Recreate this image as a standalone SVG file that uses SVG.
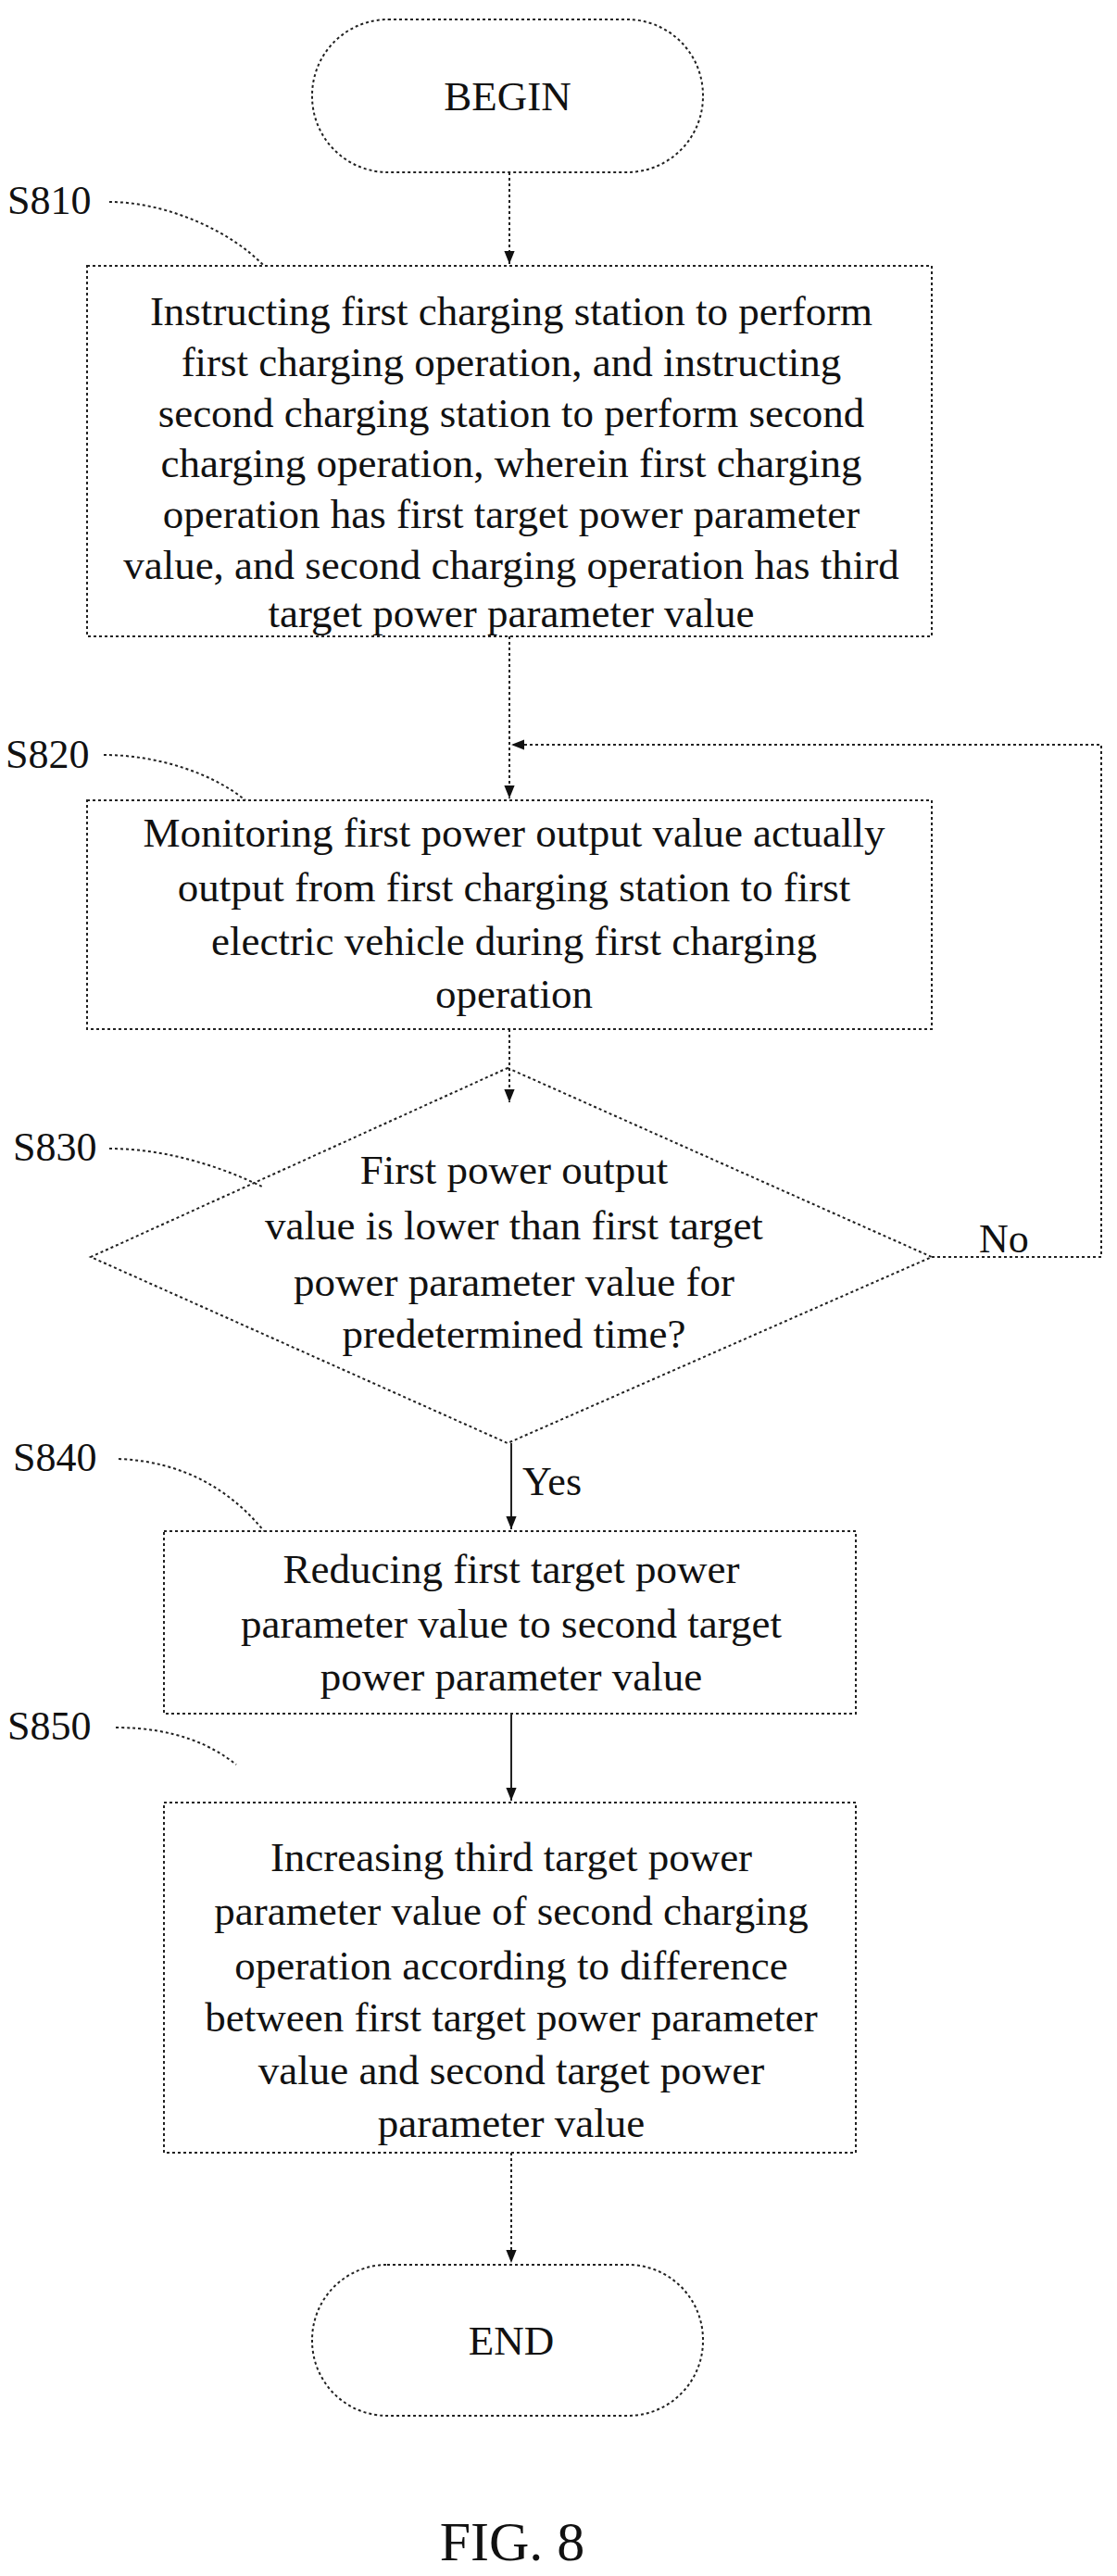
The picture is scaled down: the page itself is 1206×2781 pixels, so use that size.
<svg xmlns="http://www.w3.org/2000/svg" width="1206" height="2781" viewBox="0 0 1206 2781">
<style>
.s{fill:none;stroke:#222;stroke-width:2;stroke-dasharray:3,3}
.c{fill:none;stroke:#222;stroke-width:2;stroke-dasharray:3,3}
.t{font-family:"Liberation Serif",serif;font-size:45px;fill:#111;text-anchor:middle}
.l{font-family:"Liberation Serif",serif;font-size:44px;fill:#111}
</style>
<defs><marker id="a" viewBox="0 0 10 10" refX="10" refY="5" markerWidth="14" markerHeight="14" orient="auto" markerUnits="userSpaceOnUse"><path d="M0,1L10,5L0,9z" fill="#111"/></marker></defs>
<rect width="1206" height="2781" fill="#fff"/>
<g id="begin"><rect class="s" x="337" y="21" width="422" height="165" rx="82"/><text class="t" x="548" y="119">BEGIN</text></g>
<g id="s810"><text class="l" x="8" y="231">S810</text><path class="s" d="M118,218 C180,218 250,250 285,287"/>
<rect class="s" x="94" y="287" width="912" height="400"/>
<text class="t" x="552" y="351">Instructing first charging station to perform</text>
<text class="t" x="552" y="406">first charging operation, and instructing</text>
<text class="t" x="552" y="461">second charging station to perform second</text>
<text class="t" x="552" y="515">charging operation, wherein first charging</text>
<text class="t" x="552" y="570">operation has first target power parameter</text>
<text class="t" x="552" y="625">value, and second charging operation has third</text>
<text class="t" x="552" y="677">target power parameter value</text></g>
<g id="s820"><text class="l" x="6" y="829">S820</text><path class="s" d="M112,815 C170,815 230,835 265,864"/>
<rect class="s" x="94" y="864" width="912" height="247"/>
<text class="t" x="555" y="914">Monitoring first power output value actually</text>
<text class="t" x="555" y="973">output from first charging station to first</text>
<text class="t" x="555" y="1031">electric vehicle during first charging</text>
<text class="t" x="555" y="1088">operation</text></g>
<g id="s830"><text class="l" x="14" y="1253">S830</text><path class="s" d="M118,1240 C180,1240 240,1260 285,1282"/>
<polygon class="s" points="548,1153 1006,1357 548,1558 98,1357"/>
<text class="t" x="555" y="1278">First power output</text>
<text class="t" x="555" y="1338">value is lower than first target</text>
<text class="t" x="555" y="1399">power parameter value for</text>
<text class="t" x="555" y="1455">predetermined time?</text>
<text class="l" x="1057" y="1352">No</text></g>
<g id="s840"><text class="l" x="14" y="1588">S840</text><path class="s" d="M128,1575 C200,1578 250,1610 285,1653"/>
<rect class="s" x="177" y="1653" width="747" height="197"/>
<text class="t" x="552" y="1709">Reducing first target power</text>
<text class="t" x="552" y="1768">parameter value to second target</text>
<text class="t" x="552" y="1825">power parameter value</text></g>
<g id="s850"><text class="l" x="8" y="1878">S850</text><path class="s" d="M125,1865 C190,1865 230,1885 255,1905"/>
<rect class="s" x="177" y="1946" width="747" height="378"/>
<text class="t" x="552" y="2020">Increasing third target power</text>
<text class="t" x="552" y="2078">parameter value of second charging</text>
<text class="t" x="552" y="2137">operation according to difference</text>
<text class="t" x="552" y="2193">between first target power parameter</text>
<text class="t" x="552" y="2250">value and second target power</text>
<text class="t" x="552" y="2307">parameter value</text></g>
<g id="end"><rect class="s" x="337" y="2445" width="422" height="163" rx="81"/><text class="t" x="552" y="2542">END</text></g>
<text x="553" y="2764" font-family="Liberation Serif,serif" font-size="60" text-anchor="middle" fill="#111">FIG. 8</text>
<g id="connectors">
<path class="c" d="M550,186V285" marker-end="url(#a)"/>
<path class="c" d="M550,687V862" marker-end="url(#a)"/>
<path class="c" d="M550,1111V1190" marker-end="url(#a)"/>
<path class="c" d="M1006,1357H1189V804H552" marker-end="url(#a)"/>
<path d="M552,1558V1651" fill="none" stroke="#222" stroke-width="2" marker-end="url(#a)"/>
<text class="l" x="564" y="1614">Yes</text>
<path d="M552,1850V1944" fill="none" stroke="#222" stroke-width="2" marker-end="url(#a)"/>
<path class="c" d="M552,2324V2443" marker-end="url(#a)"/>
</g>
</svg>
